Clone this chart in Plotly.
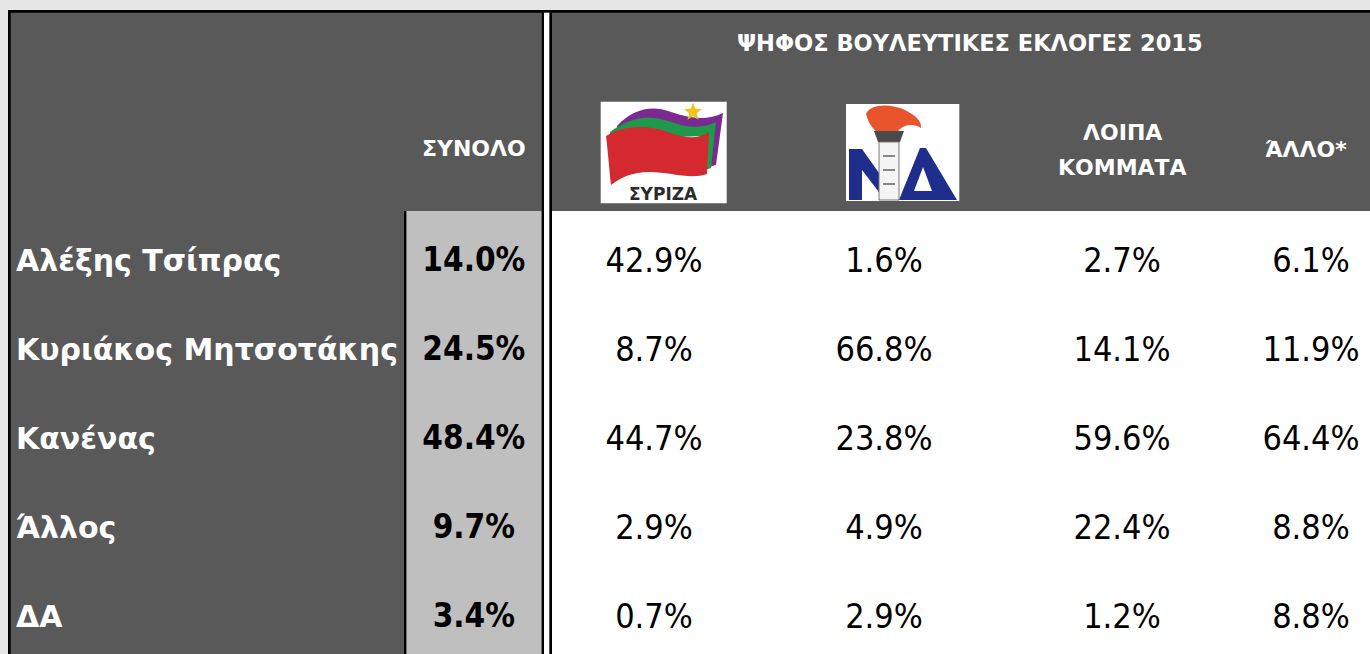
import math
import plotly.graph_objects as go

W, H = 1370, 654

# ---------------- data ----------------
rows = ["Αλέξης Τσίπρας", "Κυριάκος Μητσοτάκης", "Κανένας", "Άλλος", "ΔΑ"]
total = [14.0, 24.5, 48.4, 9.7, 3.4]
syriza = [42.9, 8.7, 44.7, 2.9, 0.7]
nd = [1.6, 66.8, 23.8, 4.9, 2.9]
other_parties = [2.7, 14.1, 59.6, 22.4, 1.2]
other_vote = [6.1, 11.9, 64.4, 8.8, 8.8]

title = "ΨΗΦΟΣ ΒΟΥΛΕΥΤΙΚΕΣ ΕΚΛΟΓΕΣ 2015"
col_total = "ΣΥΝΟΛΟ"
col_others = ["ΛΟΙΠΑ", "ΚΟΜΜΑΤΑ"]
col_other_vote = "ΆΛΛΟ*"
syriza_logo_text = "ΣΥΡΙΖΑ"

# ---------------- style ----------------
DARK = "#595959"
LIGHT = "#bfbfbf"
OUTER = "#e6e6e6"
LABEL_FONT = "DejaVu Sans, Noto Sans, sans-serif"
NUM_FONT = "DejaVu Sans Condensed, DejaVu Sans, sans-serif"
HEAD_FONT = "DejaVu Sans, Noto Sans, sans-serif"


def fx(x):
    return x / W


def fy(y):
    return 1 - y / H


def pct(v):
    return [f"{a:.1f}%" for a in v]


fig = go.Figure()

# row labels
fig.add_trace(go.Scatter(
    x=["label"] * len(rows), y=rows, text=rows, mode="text",
    textposition="middle right", xaxis="x", yaxis="y",
    textfont=dict(family=LABEL_FONT, size=30, color="white", weight="bold"),
    hoverinfo="skip", showlegend=False))

# total column
fig.add_trace(go.Scatter(
    x=[col_total] * len(rows), y=rows, text=pct(total), mode="text",
    textposition="middle center", xaxis="x2", yaxis="y",
    textfont=dict(family=NUM_FONT, size=33, color="black", weight="bold"),
    hoverinfo="skip", showlegend=False))

party_cols = [("ΣΥΡΙΖΑ", syriza, "x3"), ("ΝΔ", nd, "x4"),
              ("ΛΟΙΠΑ ΚΟΜΜΑΤΑ", other_parties, "x5"), ("ΑΛΛΟ", other_vote, "x6")]
for name, vals, ax in party_cols:
    fig.add_trace(go.Scatter(
        x=[name] * len(rows), y=rows, text=pct(vals), mode="text",
        textposition="middle center", xaxis=ax, yaxis="y",
        textfont=dict(family=NUM_FONT, size=34, color="black"),
        hoverinfo="skip", showlegend=False))

# ---------------- axes ----------------
row_top_px, row_step_px = 263, 89
body_top, body_bot = 211, 654
y_range = [(body_bot - row_top_px) / row_step_px, -(row_top_px - body_top) / row_step_px]

hidden = dict(visible=False, fixedrange=True, type="category", showgrid=False, zeroline=False)
layout_axes = dict(
    xaxis=dict(hidden, domain=[fx(16), fx(404)], range=[0, 1], anchor="y"),
    xaxis2=dict(hidden, domain=[fx(406), fx(541.7)], range=[-0.5, 0.5], anchor="y"),
    xaxis3=dict(hidden, domain=[fx(552), fx(756)], range=[-0.5, 0.5], anchor="y"),
    xaxis4=dict(hidden, domain=[fx(770), fx(998)], range=[-0.5, 0.5], anchor="y"),
    xaxis5=dict(hidden, domain=[fx(1004), fx(1240)], range=[-0.5, 0.5], anchor="y"),
    xaxis6=dict(hidden, domain=[fx(1252), fx(1370)], range=[-0.5, 0.5], anchor="y"),
    yaxis=dict(hidden, domain=[0, fy(body_top)], range=y_range,
               categoryorder="array", categoryarray=rows, anchor="x"),
)

# ---------------- decorative shapes ----------------
shapes = []


def rect(x0, y0, x1, y1, color, line=None):
    d = dict(type="rect", xref="paper", yref="paper", x0=fx(x0), x1=fx(x1),
             y0=fy(y1), y1=fy(y0), fillcolor=color, layer="below",
             line=dict(width=0) if line is None else line)
    shapes.append(d)


def path(cmds, color, line_color=None, line_w=0):
    s = ""
    for c, pts in cmds:
        if c == "L":
            for px, py in pts:
                s += f"L {fx(px):.5f},{fy(py):.5f} "
        else:
            s += c + " " + " ".join(f"{fx(px):.5f},{fy(py):.5f}" for px, py in pts) + " "
    s += "Z"
    shapes.append(dict(type="path", xref="paper", yref="paper", path=s,
                       fillcolor=color, layer="below",
                       line=dict(width=line_w, color=line_color or color)))


def line(x0, y0, x1, y1, color, w):
    shapes.append(dict(type="line", xref="paper", yref="paper", x0=fx(x0), x1=fx(x1),
                       y0=fy(y0), y1=fy(y1), line=dict(color=color, width=w), layer="below"))


rect(8, 10, 1372, 656, "black")
rect(10.7, 12.7, 1372, 656, DARK)
rect(404, 211, 406.5, 656, "black")
rect(406.5, 211, 541.7, 656, LIGHT)
rect(541.7, 12.7, 544, 656, "black")
rect(544, 12.7, 549.5, 656, "white")
rect(549.5, 12.7, 552, 656, "black")
rect(552, 211, 1372, 656, "white")

# SYRIZA logo
rect(600.7, 101.7, 726.7, 203.3, "white")
path([("M", [(617, 126)]), ("C", [(632, 110), (650, 105), (668, 111)]),
      ("C", [(685, 117), (705, 122), (723, 113)]), ("L", [(716, 165)]),
      ("L", [(705, 168)]), ("L", [(705, 128)]), ("L", [(617, 135)])], "#7b2a8f")
path([("M", [(610, 132)]), ("C", [(628, 118), (648, 114), (668, 121)]),
      ("C", [(685, 127), (700, 130), (716, 122)]), ("L", [(711, 168)]),
      ("L", [(702, 171)]), ("L", [(702, 136)]), ("L", [(610, 140)])], "#1e9a4a")
path([("M", [(606, 136)]), ("C", [(622, 126), (645, 124), (668, 132)]),
      ("C", [(684, 138), (697, 140), (709, 132)]), ("L", [(707, 174)]),
      ("C", [(690, 180), (670, 172), (650, 172)]), ("C", [(632, 172), (620, 178), (611, 185)]),
      ("C", [(609, 167), (608, 152), (606, 136)])], "#d42a2f")
star_pts = []
for k in range(10):
    r = 9.5 if k % 2 == 0 else 3.9
    a = -math.pi / 2 + k * math.pi / 5
    star_pts.append((693 + r * math.cos(a), 112 + r * math.sin(a)))
path([("M", [star_pts[0]]), ("L", star_pts[1:])], "#f2c318")

# ND logo
rect(846, 104, 959.3, 201, "white")
path([("M", [(849, 200)]), ("L", [(849, 149), (862, 149), (884, 180), (884, 149), (897, 149),
                                  (897, 200), (885, 200), (862, 170), (862, 200)])], "#1f2d8c")
path([("M", [(899, 200)]), ("L", [(920, 148), (926, 148), (957, 200)])], "#1f2d8c")
path([("M", [(914, 191)]), ("L", [(923, 167), (932, 191)])], "white")
path([("M", [(866, 114)]), ("C", [(870, 104), (890, 103), (905, 110)]),
      ("C", [(915, 115), (922, 121), (921, 128)]), ("C", [(913, 123), (905, 125), (900, 129)]),
      ("C", [(896, 134), (889, 136), (884, 135)]), ("C", [(876, 133), (869, 126), (866, 114)])],
     "#e8542c")
path([("M", [(874, 131)]), ("L", [(904, 131), (900, 142), (878, 142)])], "#4a4a4a")
rect(879, 142, 899, 200, "#f4f4f4", line=dict(color="#777777", width=1))
for yy in (156, 170, 184):
    line(883, yy, 895, yy, "#888888", 2)

# ---------------- header text ----------------
annotations = []


def ann(text, x, y, size=22, color="white", weight="bold", family=HEAD_FONT):
    annotations.append(dict(text=text, x=fx(x), y=fy(y), xref="paper", yref="paper",
                            xanchor="center", yanchor="middle", showarrow=False,
                            font=dict(family=family, size=size, color=color, weight=weight)))


ann(title, 970, 43, size=22.5)
ann(col_total, 474, 148)
ann(col_others[0], 1122, 133)
ann(col_others[1], 1122, 167)
ann(col_other_vote, 1306, 150)
ann(syriza_logo_text, 663, 194, size=17, color="#2b2b2b")

fig.update_layout(
    width=W, height=H, margin=dict(l=0, r=0, t=0, b=0),
    paper_bgcolor=OUTER, plot_bgcolor="rgba(0,0,0,0)",
    shapes=shapes, annotations=annotations, showlegend=False,
    **layout_axes)

fig.write_html(
    "out.html", config={"displayModeBar": False},
    post_script="document.body.style.margin='0';document.body.style.padding='0';"
                "document.body.style.overflow='hidden';document.body.style.background='#e6e6e6';")
